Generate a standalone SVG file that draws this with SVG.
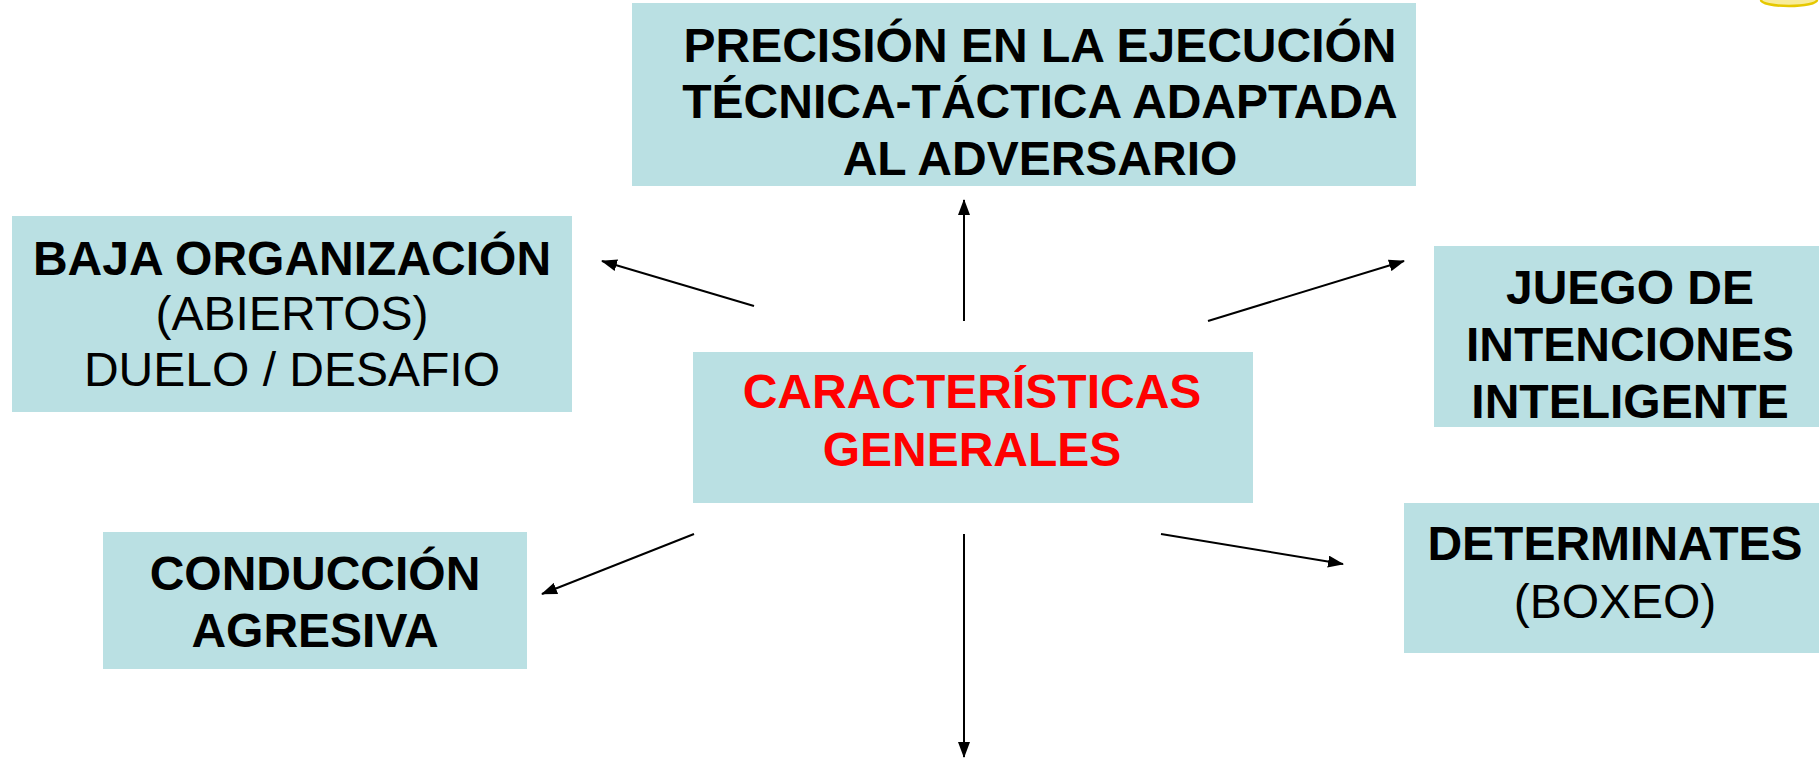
<svg xmlns="http://www.w3.org/2000/svg" width="1819" height="759" viewBox="0 0 1819 759">
<style>
.box{fill:#BAE0E3}
.t{font-family:"Liberation Sans",Arial,sans-serif;font-size:48px;text-anchor:middle;fill:#000}
.b{font-weight:bold}
.red{fill:#FF0000}
.c{stroke:#000;stroke-width:2;fill:none;marker-end:url(#ah)}
</style>
<defs>
<marker id="ah" viewBox="0 0 16 12" refX="15" refY="6" markerWidth="16" markerHeight="12" orient="auto" markerUnits="userSpaceOnUse">
<path d="M0,0 L16,6 L0,12 z" fill="#000"/>
</marker>
</defs>
<rect width="1819" height="759" fill="#fff"/>
<path d="M1761,0 A28,6 0 0 0 1817,0" fill="#F8EC9A" stroke="#E6C800" stroke-width="2.5"/>
<g id="connectors">
<line class="c" x1="964" y1="321" x2="964" y2="200"/>
<line class="c" x1="964" y1="534" x2="964" y2="757"/>
<line class="c" x1="754" y1="306" x2="602" y2="261"/>
<line class="c" x1="1208" y1="321" x2="1404" y2="261"/>
<line class="c" x1="694" y1="534" x2="542" y2="594"/>
<line class="c" x1="1161" y1="534" x2="1343" y2="564"/>
</g>
<g id="node-precision">
<rect class="box" x="632" y="3" width="784" height="183"/>
<text class="t b" x="1040" y="62">PRECISIÓN EN LA EJECUCIÓN</text>
<text class="t b" x="1040" y="118">TÉCNICA-TÁCTICA ADAPTADA</text>
<text class="t b" x="1040" y="175">AL ADVERSARIO</text>
</g>
<g id="node-baja">
<rect class="box" x="12" y="216" width="560" height="196"/>
<text class="t b" x="292" y="275">BAJA ORGANIZACIÓN</text>
<text class="t" x="292" y="330">(ABIERTOS)</text>
<text class="t" x="292" y="386">DUELO / DESAFIO</text>
</g>
<g id="node-caracteristicas">
<rect class="box" x="693" y="352" width="560" height="151"/>
<text class="t b red" x="972" y="408">CARACTERÍSTICAS</text>
<text class="t b red" x="972" y="466">GENERALES</text>
</g>
<g id="node-juego">
<rect class="box" x="1434" y="246" width="385" height="181"/>
<text class="t b" x="1630" y="304">JUEGO DE</text>
<text class="t b" x="1630" y="361">INTENCIONES</text>
<text class="t b" x="1630" y="418">INTELIGENTE</text>
</g>
<g id="node-determinates">
<rect class="box" x="1404" y="503" width="415" height="150"/>
<text class="t b" x="1615" y="560">DETERMINATES</text>
<text class="t" x="1615" y="618">(BOXEO)</text>
</g>
<g id="node-conduccion">
<rect class="box" x="103" y="532" width="424" height="137"/>
<text class="t b" x="315" y="590">CONDUCCIÓN</text>
<text class="t b" x="315" y="647">AGRESIVA</text>
</g>
</svg>
